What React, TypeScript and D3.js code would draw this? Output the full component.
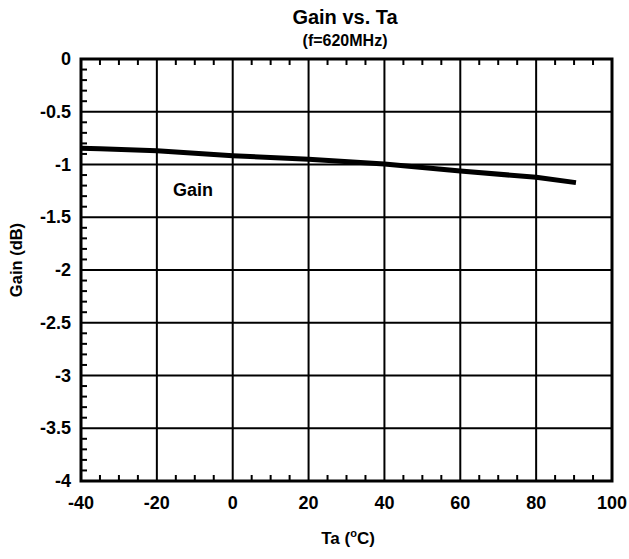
import React from "react";
import * as d3 from "d3";

const temps = [-40, -35, -20, 0, 20, 40, 60, 80, 90.5];
const gain = [-0.846, -0.85, -0.869, -0.917, -0.951, -0.995, -1.062, -1.121, -1.172];
const xTicks = [-40, -20, 0, 20, 40, 60, 80, 100];
const yTicks = [0, -0.5, -1, -1.5, -2, -2.5, -3, -3.5, -4];

const W = 629, H = 559;
const M = { left: 81, right: 612, top: 59, bottom: 481 };
const FONT = "'Liberation Sans', Arial, sans-serif";

export default function App() {
  const x = d3.scaleLinear().domain([-40, 100]).range([M.left, M.right]);
  const y = d3.scaleLinear().domain([-4, 0]).range([M.bottom, M.top]);
  const line = d3.line<number>().x((_, i) => x(temps[i])).y((d) => y(d));
  const xMinor = d3.range(-40, 100.001, 5).filter((t) => !xTicks.includes(t));
  const yMinor = d3.range(0, 41).map((i) => -i / 10).filter((v) => Math.abs(v * 2 - Math.round(v * 2)) > 1e-6);
  const tl = 6;
  return (
    <svg width={W} height={H} style={{ position: "absolute", left: 0, top: 0, background: "#fff" }} fontFamily={FONT} fontWeight="bold">
      <rect x={0} y={0} width={W} height={H} fill="#fff" />
      {xTicks.slice(1, -1).map((t) => (
        <line key={"gx" + t} x1={x(t)} x2={x(t)} y1={M.top} y2={M.bottom} stroke="#000" strokeWidth={2} />
      ))}
      {yTicks.slice(1, -1).map((v) => (
        <line key={"gy" + v} x1={M.left} x2={M.right} y1={y(v)} y2={y(v)} stroke="#000" strokeWidth={2} />
      ))}
      {xMinor.map((t) => (
        <g key={"mx" + t}>
          <line x1={x(t)} x2={x(t)} y1={M.bottom} y2={M.bottom - tl} stroke="#000" strokeWidth={2} />
          <line x1={x(t)} x2={x(t)} y1={M.top} y2={M.top + tl} stroke="#000" strokeWidth={2} />
        </g>
      ))}
      {yMinor.map((v) => (
        <line key={"my" + v} x1={M.left} x2={M.left + tl} y1={y(v)} y2={y(v)} stroke="#000" strokeWidth={2} />
      ))}
      <rect x={M.left} y={M.top} width={M.right - M.left} height={M.bottom - M.top} fill="none" stroke="#000" strokeWidth={3} />
      <path d={line(gain) || ""} fill="none" stroke="#000" strokeWidth={5} strokeLinejoin="round" />
      <text x={193} y={196} fontSize={18} textAnchor="middle">Gain</text>
      {xTicks.map((t) => (
        <text key={"xl" + t} x={x(t)} y={509} fontSize={18} textAnchor="middle">{t}</text>
      ))}
      {yTicks.map((v) => (
        <text key={"yl" + v} x={71} y={y(v) + 6} fontSize={18} textAnchor="end">{v}</text>
      ))}
      <text x={345} y={24} fontSize={20} textAnchor="middle">Gain vs. Ta</text>
      <text x={345} y={46} fontSize={16} textAnchor="middle">(f=620MHz)</text>
      <text x={348} y={544} fontSize={17} textAnchor="middle">
        Ta (<tspan dy={-7} fontSize={11}>o</tspan><tspan dy={7}>C)</tspan>
      </text>
      <text transform={`translate(22,260) rotate(-90)`} fontSize={16.5} textAnchor="middle">Gain (dB)</text>
    </svg>
  );
}
